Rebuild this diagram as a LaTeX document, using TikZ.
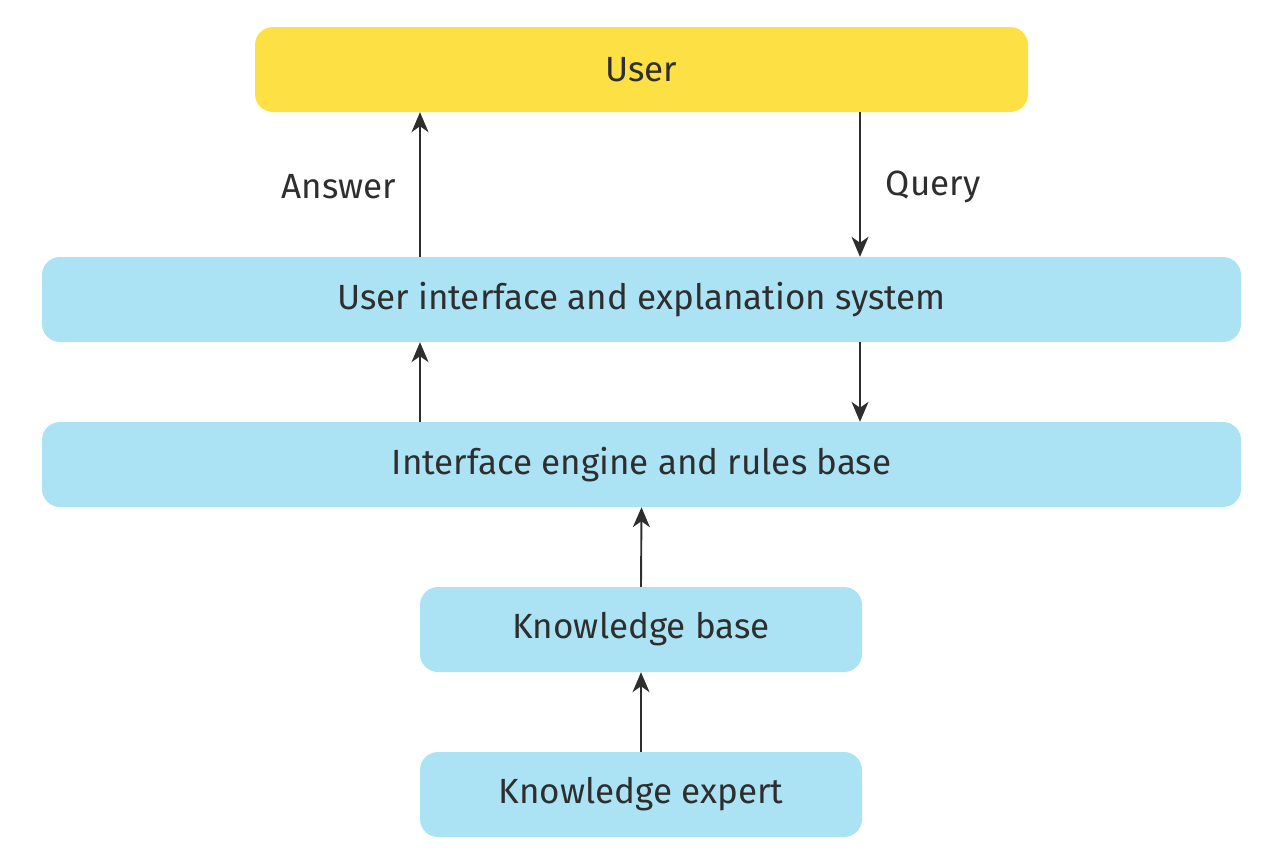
\documentclass[tikz,border=0pt]{standalone}
\usepackage{fontspec}
\setmainfont{Fira Sans}
\usetikzlibrary{arrows.meta}
\definecolor{useryellow}{HTML}{FDE043}
\definecolor{boxblue}{HTML}{ABE3F4}
\definecolor{ink}{HTML}{2E2E2E}
\tikzset{
  box/.style={rounded corners=18pt, minimum height=85pt, inner sep=0pt, text=ink, font=\fontsize{35}{40}\selectfont},
  bluebox/.style={box, fill=boxblue},
  arr/.style={draw=ink, line width=1.9pt, -{Stealth[length=20pt,width=17pt,inset=6pt]}},
  lbl/.style={text=ink, font=\fontsize{35}{40}\selectfont, inner sep=0pt}
}
\begin{document}
\begin{tikzpicture}[x=1pt,y=-1pt]
\useasboundingbox (0,0) rectangle (1283,855);
\node[box, fill=useryellow, minimum width=773pt] (user) at (641.5,69.5) {User};
\node[bluebox, minimum width=1199pt] (ui) at (641.5,299.5) {User interface and explanation system};
\node[bluebox, minimum width=1199pt] (ie) at (641.5,464.5) {Interface engine and rules base};
\node[bluebox, minimum width=442pt] (kb) at (641,629.5) {Knowledge base};
\node[bluebox, minimum width=442pt] (ke) at (641,794.5) {Knowledge expert};
\draw[arr] ([xshift=-221.5pt]ui.north) -- ([xshift=-221.5pt]user.south) node[lbl, midway, anchor=east, xshift=-23pt, yshift=-2pt] (ans) {Answer};
\draw[arr] ([xshift=218.5pt]user.south) -- ([xshift=218.5pt]ui.north) node[lbl, midway, anchor=west, xshift=25pt, yshift=-2pt] (qry) {Query};
\draw[arr] ([xshift=-221.5pt]ie.north) -- ([xshift=-221.5pt]ui.south);
\draw[arr] ([xshift=218.5pt]ui.south) -- ([xshift=218.5pt]ie.north);
\draw[arr] (kb.north) -- (ie.south);
\draw[arr] (ke.north) -- (kb.south);
\end{tikzpicture}
\end{document}
